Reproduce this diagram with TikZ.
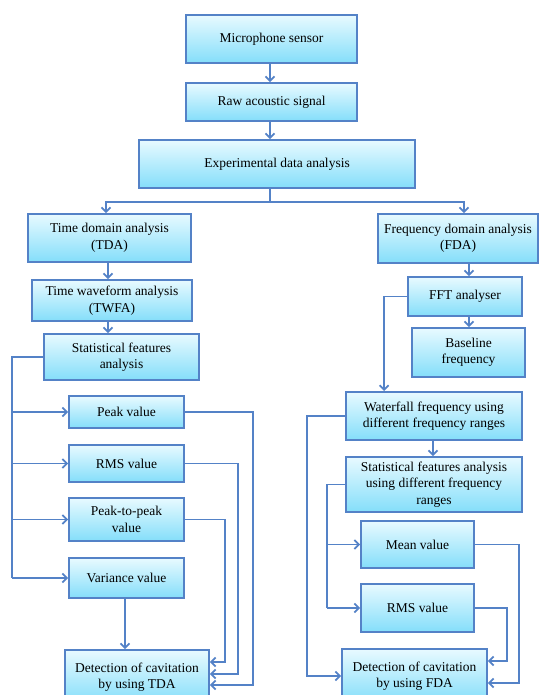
\documentclass[tikz,border=0pt]{standalone}
\usepackage{fontspec}
\setmainfont{Liberation Serif}
\usetikzlibrary{arrows.meta,calc}
\definecolor{boxtop}{RGB}{232,250,255}
\definecolor{boxbot}{RGB}{132,222,250}
\definecolor{boxline}{RGB}{84,130,199}
\begin{document}
\begin{tikzpicture}[
    x=1pt, y=-1pt,
    font=\fontsize{13.5}{16.5}\selectfont,
    box/.style={rectangle, draw=boxline, line width=1.8pt, top color=boxtop, bottom color=boxbot, align=center, inner sep=2pt},
    arr/.style={draw=boxline, line width=1.8pt, -{Straight Barb[length=4.5pt,width=9pt]}},
    ln/.style={draw=boxline, line width=1.8pt}
]
\clip (0,0) rectangle (539,695);

% Top chain
\node[box, minimum width=171, minimum height=48] (mic) at (271.5,39) {Microphone sensor};
\node[box, minimum width=171, minimum height=38] (raw) at (271.5,102) {Raw acoustic signal};
\node[box, minimum width=276, minimum height=48] (exp) at (277,164) {Experimental data analysis};

% Time domain
\node[box, minimum width=163, minimum height=48] (tda) at (109.5,238) {Time domain analysis\\(TDA)};
\node[box, minimum width=160, minimum height=41] (twfa) at (112,300.5) {Time waveform analysis\\(TWFA)};
\node[box, minimum width=155, minimum height=46] (statT) at (121.5,357) {Statistical features\\analysis};
\node[box, minimum width=115, minimum height=32] (peak) at (126.5,412) {Peak value};
\node[box, minimum width=115, minimum height=37] (rmsT) at (126.5,463.5) {RMS value};
\node[box, minimum width=115, minimum height=43] (p2p) at (126.5,519.5) {Peak-to-peak\\value};
\node[box, minimum width=115, minimum height=40] (var) at (126.5,578) {Variance value};
\node[box, minimum width=144, minimum height=54] (detT) at (137,677) {Detection of cavitation\\by using TDA};

% Frequency domain
\node[box, minimum width=160, minimum height=49] (fda) at (458,238.5) {Frequency domain analysis\\(FDA)};
\node[box, minimum width=114, minimum height=39] (fft) at (465,296.5) {FFT analyser};
\node[box, minimum width=113, minimum height=49] (base) at (468.5,352.5) {Baseline\\frequency};
\node[box, minimum width=176, minimum height=48] (water) at (434,416) {Waterfall frequency using\\different frequency ranges};
\node[box, minimum width=176, minimum height=55] (statF) at (434,484.5) {Statistical features analysis\\using different frequency\\ranges};
\node[box, minimum width=113, minimum height=47] (mean) at (417.5,544.5) {Mean value};
\node[box, minimum width=113, minimum height=48] (rmsF) at (417.5,608) {RMS value};
\node[box, minimum width=145, minimum height=54] (detF) at (414.5,676) {Detection of cavitation\\by using FDA};

% Connections
\coordinate (split) at (270,202);
\draw[arr] (mic.south -| split) -- (raw.north -| split);
\draw[arr] (raw.south -| split) -- (exp.north -| split);
\draw[ln] (exp.south -| split) -- (split);
\draw[arr] (split) -| ($(tda.north)+(-3.5,0)$);
\draw[arr] (split) -| ($(fda.north)+(6,0)$);

\coordinate (tw) at (108,0);
\draw[arr] (tda.south -| tw) -- (twfa.north -| tw);
\draw[arr] (twfa.south -| tw) -- (statT.north -| tw);

\coordinate (busT) at (12,0);
\draw[ln] (statT.west) -- (statT.west -| busT) -- (busT |- var.west);
\foreach \n in {peak,rmsT,p2p,var}
  \draw[arr] (busT |- \n.west) -- (\n.west);

\draw[arr] (peak.east) -- ++(68,0) |- ($(detT.east)+(0,8)$);
\draw[arr] (rmsT.east) -- ++(53,0) |- ($(detT.east)+(0,-3)$);
\draw[arr] (p2p.east) -- ++(40,0) |- ($(detT.east)+(0,-15)$);
\coordinate (vt) at (125,0);
\draw[arr] (var.south -| vt) -- (detT.north -| vt);

\coordinate (ft) at (469,0);
\draw[arr] (fda.south -| ft) -- (fft.north -| ft);
\draw[arr] (fft.south -| ft) -- (base.north -| ft);
\draw[arr] (fft.west) -- ++(-23,0) coordinate (fk) -- (fk |- water.north);
\coordinate (wt) at (433,0);
\draw[arr] (water.south -| wt) -- (statF.north -| wt);
\draw[arr] (water.west) -- ++(-38,0) |- (detF.west);

\coordinate (busF) at (327,0);
\draw[ln] (statF.west) -- (statF.west -| busF) -- (busF |- rmsF.west);
\foreach \n in {mean,rmsF}
  \draw[arr] (busF |- \n.west) -- (\n.west);

\draw[arr] (mean.east) -- ++(44,0) |- ($(detF.east)+(0,7)$);
\draw[arr] (rmsF.east) -- ++(32,0) |- ($(detF.east)+(0,-15)$);

\end{tikzpicture}
\end{document}
